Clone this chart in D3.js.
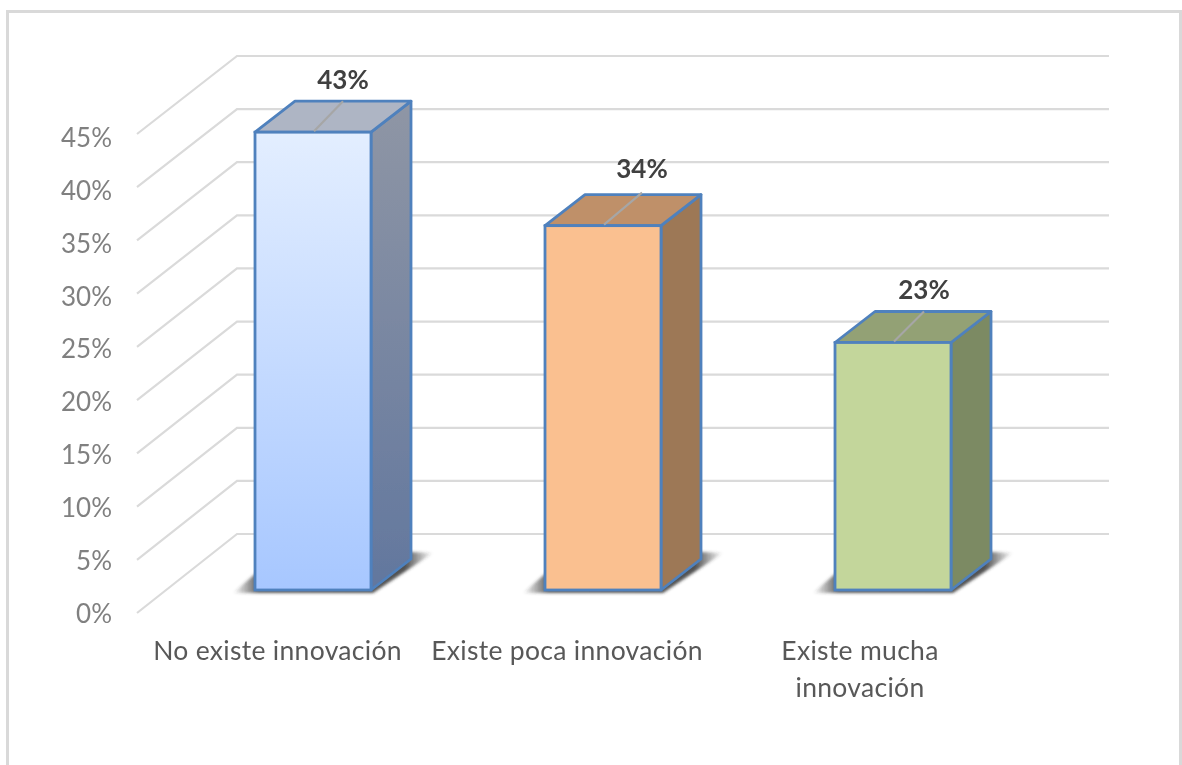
<!DOCTYPE html>
<html><head><meta charset="utf-8">
<script src="https://cdn.jsdelivr.net/npm/d3@7/dist/d3.min.js"></script>
<style>html,body{margin:0;padding:0;background:#fff}svg{display:block}text{font-family:Lato,"Open Sans",sans-serif}</style>
</head><body><svg id="c" width="1182" height="765"></svg>
<script>
const categories = ["No existe innovación","Existe poca innovación","Existe mucha innovación"];
const categoryLines = [["No existe innovación"],["Existe poca innovación"],["Existe mucha","innovación"]];
const values = [0.431,0.343,0.233];
const frontColors = [["#e3eeff","#a7c7ff"],["#fac090","#fac090"],["#c3d69b","#c3d69b"]];
const topColors = ["#aeb5c4","#bf9069","#93a174"];
const sideColors = [["#8f96a5","#62779e"],["#9d7856","#9d7856"],["#7b8a63","#7b8a63"]];
const yTicks = [0,0.05,0.10,0.15,0.20,0.25,0.30,0.35,0.40,0.45];

const svg = d3.select("#c");
const defs = svg.append("defs");
defs.append("filter").attr("id","soft").attr("x","-5%").attr("y","-5%").attr("width","110%").attr("height","110%")
  .append("feGaussianBlur").attr("stdDeviation",0.5);
defs.append("filter").attr("id","shadow").attr("x","-30%").attr("y","-50%").attr("width","160%").attr("height","200%")
  .append("feGaussianBlur").attr("stdDeviation",1.6);
const grad=(id,c)=>{const g=defs.append("linearGradient").attr("id",id).attr("x1",0).attr("y1",0).attr("x2",0).attr("y2",1);
  g.append("stop").attr("offset",0).attr("stop-color",c[0]);g.append("stop").attr("offset",1).attr("stop-color",c[1]);};
frontColors.forEach((c,i)=>grad("f"+i,c));
sideColors.forEach((c,i)=>grad("s"+i,c));
const sg = defs.append("linearGradient").attr("id","shadowFade").attr("x1",0).attr("y1",0).attr("x2",1).attr("y2",0);
[[0,0],[0.13,0.8],[0.86,0.85],[1,0]].forEach(s=>sg.append("stop").attr("offset",s[0]).attr("stop-color","#333").attr("stop-opacity",s[1]));

const root = svg.append("g").attr("filter","url(#soft)");
root.append("path").attr("d","M7.5,765V11.5H1180.5V765").attr("fill","none").attr("stroke","#d9d9d9").attr("stroke-width",3);

const yWall = d3.scaleLinear().domain([0,0.45]).range([534,56]);
const yAxisFront = d3.scaleLinear().domain([0,0.45]).range([613,134]);
const yAxisLabel = d3.scaleLinear().domain([0,0.45]).range([613,137]);
const yBar = d3.scaleLinear().domain([0,0.45]).range([590,112]);
const x = d3.scaleBand().domain(categories).range([255,951]).paddingInner(0.6).paddingOuter(0);
const wallLeft=237, wallRight=1109, floorLeft=137, dx=40, dy=31;
const labelShiftX=[30,39,31], labelShiftY=[43,48,44], catCenter=[277.5,567,860];

root.append("g").selectAll("path").data(yTicks).join("path")
  .attr("d",d=>d3.line()([[floorLeft,yAxisFront(d)],[wallLeft,yWall(d)],[wallRight,yWall(d)]]))
  .attr("fill","none").attr("stroke","#dadada").attr("stroke-width",2.2);

const axis = root.append("g").attr("transform","translate(112,0)")
  .call(d3.axisLeft(yAxisLabel).tickValues(yTicks).tickFormat(d3.format(".0%")).tickSize(0).tickPadding(0));
axis.select(".domain").remove();
axis.selectAll("text").attr("font-size",26).attr("fill","#808080").attr("font-family","Lato").attr("dy","0.36em");

const bars = root.append("g").selectAll("g").data(categories).join("g");
bars.append("path").attr("filter","url(#shadow)").attr("fill","url(#shadowFade)")
  .attr("d",d=>{const l=x(d),r=l+x.bandwidth(),b=yBar(0);
    return d3.line()([[l-22,b+3],[r+2,b+3],[r+dx+22,b-dy-6],[r+dx,b-dy-7],[l+30,b-dy-7],[l,b-16]])+"Z";});
bars.append("path").attr("fill",(d,i)=>`url(#s${i})`).attr("stroke","#4f81bd").attr("stroke-width",2.8).attr("stroke-linejoin","round")
  .attr("d",(d,i)=>{const r=x(d)+x.bandwidth(),b=yBar(0),t=yBar(values[i]);
    return d3.line()([[r,t],[r+dx,t-dy],[r+dx,b-dy],[r,b]])+"Z";});
bars.append("path").attr("fill",(d,i)=>topColors[i]).attr("stroke","#4f81bd").attr("stroke-width",2.8).attr("stroke-linejoin","round")
  .attr("d",(d,i)=>{const l=x(d),r=l+x.bandwidth(),t=yBar(values[i]);
    return d3.line()([[l,t],[r,t],[r+dx,t-dy],[l+dx,t-dy]])+"Z";});
bars.append("rect").attr("x",d=>x(d)).attr("y",(d,i)=>yBar(values[i])).attr("width",x.bandwidth())
  .attr("height",(d,i)=>yBar(0)-yBar(values[i]))
  .attr("fill",(d,i)=>`url(#f${i})`).attr("stroke","#4f81bd").attr("stroke-width",2.8);
// leader line across the top face
bars.append("path").attr("fill","none").attr("stroke","#a6a6a6").attr("stroke-width",2.2)
  .attr("d",(d,i)=>{const c=x(d)+x.bandwidth()/2+1,t=yBar(values[i]);
    return d3.line()([[c,t-1],[c+labelShiftX[i]-1,t-dy-(i===1?2:0)]]);});
bars.append("text").text((d,i)=>d3.format(".0%")(values[i]))
  .attr("x",(d,i)=>x(d)+x.bandwidth()/2+labelShiftX[i]).attr("y",(d,i)=>yBar(values[i])-labelShiftY[i])
  .attr("text-anchor","middle").attr("font-size",26).attr("font-weight",700).attr("fill","#404040");

const cat = root.append("g").selectAll("text").data(categories).join("text")
  .attr("text-anchor","middle").attr("font-size",26.5).attr("letter-spacing",0.3).attr("fill","#595959");
cat.each(function(d,i){
  d3.select(this).selectAll("tspan").data(categoryLines[i]).join("tspan")
    .attr("x",catCenter[i]).attr("y",(l,j)=>660+j*37).text(l=>l);
});
</script></body></html>
